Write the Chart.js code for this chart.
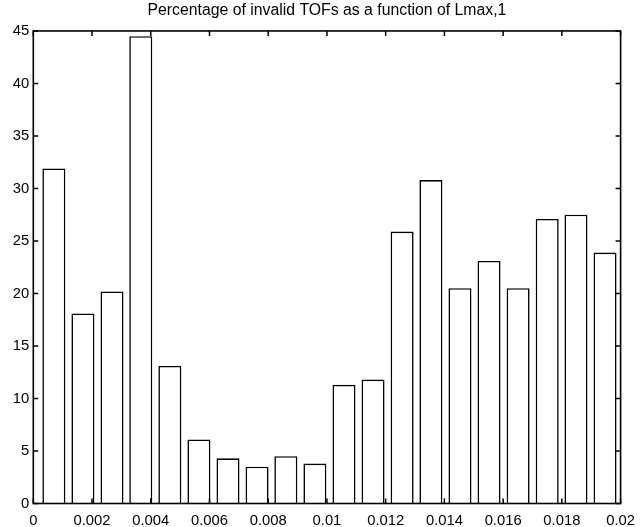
<!DOCTYPE html>
<html>
<head>
<meta charset="utf-8">
<title>Percentage of invalid TOFs as a function of Lmax,1</title>
<script src="https://cdn.jsdelivr.net/npm/chart.js@4/dist/chart.umd.min.js"></script>
<style>
  html, body { margin: 0; padding: 0; background: #fff; }
  #wrap { width: 644px; height: 527px; }
</style>
</head>
<body>
<div id="wrap"><canvas id="hist" width="644" height="527"></canvas></div>
<script>
// Histogram bin centres (Lmax,1) and share of invalid TOFs per bin, in percent
const binCenters = [
  0.00070, 0.00169, 0.00268, 0.00366, 0.00465,
  0.00564, 0.00663, 0.00762, 0.00860, 0.00959,
  0.01058, 0.01157, 0.01256, 0.01354, 0.01453,
  0.01552, 0.01651, 0.01750, 0.01848, 0.01947
];
const invalidPercent = [
  31.9, 18.1, 20.2, 44.5, 13.1,
  6.1, 4.3, 3.5, 4.5, 3.8,
  11.3, 11.8, 25.9, 30.8, 20.5,
  23.1, 20.5, 27.1, 27.5, 23.9
];
const xTickValues = [0, 0.002, 0.004, 0.006, 0.008, 0.01, 0.012, 0.014, 0.016, 0.018, 0.02];
const yTickValues = [0, 5, 10, 15, 20, 25, 30, 35, 40, 45];

const FONT = "'Liberation Sans', Arial, Helvetica, sans-serif";

// Box around the axes with inward-pointing ticks on all four sides
const boxAxes = {
  id: 'boxAxes',
  afterDatasetsDraw(chart) {
    const { ctx, chartArea: a, scales: { x, y } } = chart;
    const len = 5;
    ctx.save();
    ctx.strokeStyle = '#000';
    ctx.lineWidth = 1.5;
    ctx.beginPath();
    xTickValues.forEach(v => {
      const px = x.getPixelForValue(v);
      ctx.moveTo(px, a.bottom); ctx.lineTo(px, a.bottom - len);
      ctx.moveTo(px, a.top);    ctx.lineTo(px, a.top + len);
    });
    yTickValues.forEach(v => {
      const py = y.getPixelForValue(v);
      ctx.moveTo(a.left, py);  ctx.lineTo(a.left + len, py);
      ctx.moveTo(a.right, py); ctx.lineTo(a.right - len, py);
    });
    ctx.stroke();
    ctx.lineWidth = 1.6;
    ctx.strokeRect(a.left, a.top, a.right - a.left, a.bottom - a.top);
    ctx.restore();
  }
};

new Chart(document.getElementById('hist'), {
  type: 'bar',
  data: {
    datasets: [{
      data: binCenters.map((c, i) => ({ x: c, y: invalidPercent[i] })),
      backgroundColor: '#fff',
      borderColor: '#000',
      borderWidth: 1.6,
      categoryPercentage: 1.0,
      barPercentage: 0.8
    }]
  },
  options: {
    responsive: false,
    animation: false,
    devicePixelRatio: 1,
    layout: { padding: { left: 0, right: 17, top: 0, bottom: 0 } },
    plugins: {
      legend: { display: false },
      tooltip: { enabled: false },
      title: {
        display: true,
        text: 'Percentage of invalid TOFs as a function of Lmax,1',
        color: '#000',
        fullSize: false,
        font: { family: FONT, size: 15.8, weight: 'normal', lineHeight: 1.2 },
        padding: { top: 1, bottom: 11 }
      }
    },
    scales: {
      x: {
        type: 'linear',
        min: 0,
        max: 0.02,
        offset: false,
        grid: { display: false, drawTicks: false, offset: false },
        border: { display: false },
        afterBuildTicks(scale) { scale.ticks = xTickValues.map(v => ({ value: v })); },
        afterFit(scale) { scale.height = 23.5; },
        ticks: {
          color: '#000',
          padding: 9,
          maxRotation: 0,
          autoSkip: false,
          font: { family: FONT, size: 14.8 },
          callback: v => String(+Number(v).toFixed(4))
        }
      },
      y: {
        min: 0,
        max: 45,
        grid: { display: false, drawTicks: false },
        border: { display: false },
        afterBuildTicks(scale) { scale.ticks = yTickValues.map(v => ({ value: v })); },
        afterFit(scale) { scale.width = 33.3; },
        ticks: {
          color: '#000',
          padding: 4,
          autoSkip: false,
          font: { family: FONT, size: 14.8 }
        }
      }
    }
  },
  plugins: [boxAxes]
});
</script>
</body>
</html>
